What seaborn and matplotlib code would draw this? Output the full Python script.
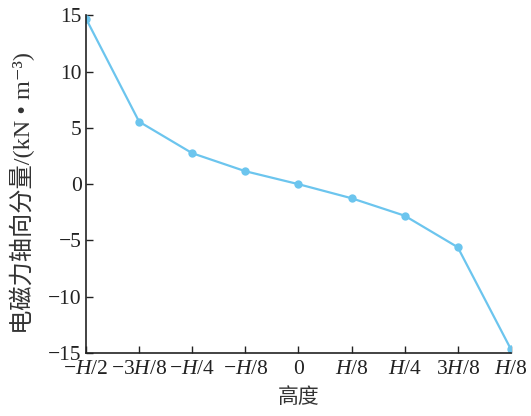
import matplotlib
matplotlib.use("Agg")
import matplotlib.pyplot as plt
import seaborn as sns
import pandas as pd

positions = [0, 1, 2, 3, 4, 5, 6, 7, 8]
tick_labels = [r"$-H$/2", r"$-$3$H$/8", r"$-H$/4", r"$-H$/8", "0",
               r"$H$/8", r"$H$/4", r"3$H$/8", r"$H$/8"]
force = [14.7, 5.55, 2.75, 1.15, 0.0, -1.25, -2.8, -5.6, -14.65]
yticks = [-15, -10, -5, 0, 5, 10, 15]

df = pd.DataFrame({"pos": positions, "force": force})

sns.set_style("ticks")
plt.rcParams["font.family"] = ["Liberation Serif", "Noto Sans CJK SC", "DejaVu Sans"]
plt.rcParams["mathtext.fontset"] = "custom"
plt.rcParams["mathtext.rm"] = "Liberation Serif"
plt.rcParams["mathtext.it"] = "Liberation Serif:italic"
plt.rcParams["axes.unicode_minus"] = True

fig = plt.figure(figsize=(5.31, 4.16), dpi=100)
ax = fig.add_axes([0.162, 0.1514, 0.800, 0.8118])

color = "#6CC5EE"
sns.lineplot(data=df, x="pos", y="force", ax=ax, color=color, linewidth=1.6,
             marker="o", markersize=6, markeredgewidth=0, markeredgecolor=color)

ax.set_xlim(0, 8)
ax.set_ylim(-15, 15)
ax.set_xticks(positions)
ax.set_xticklabels(tick_labels)
ax.set_yticks(yticks)
ax.tick_params(direction="in", length=5, width=1.0, labelsize=15.5, colors="#222222")
ax.tick_params(axis="x", pad=5)
ax.tick_params(axis="y", pad=3)
for s in ["top", "right"]:
    ax.spines[s].set_visible(False)
for s in ["left", "bottom"]:
    ax.spines[s].set_linewidth(1.2)
    ax.spines[s].set_color("#222222")

ax.set_xlabel("高度", fontsize=15, family=["Noto Sans CJK SC", "DejaVu Sans"], labelpad=5, color="#333333")
ax.set_ylabel("电磁力轴向分量/(kN • m⁻³)", fontsize=17.5,
              family=["Liberation Serif", "Noto Sans CJK SC", "DejaVu Sans"], color="#333333")
ax.yaxis.set_label_coords(-0.12, 0.475)

fig.savefig("out.png", dpi=100)
